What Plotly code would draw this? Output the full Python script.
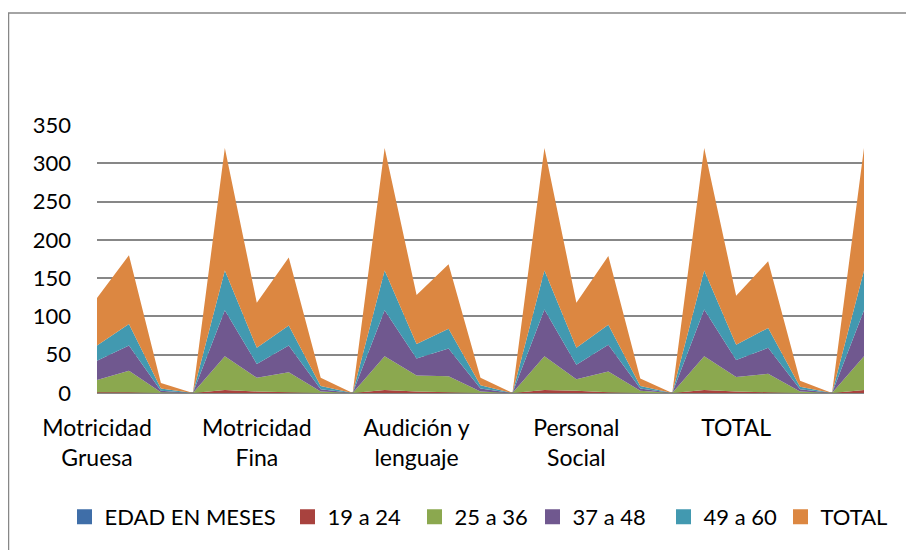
import plotly.graph_objects as go

# 25 category rows; only every 5th carries a visible label
x_idx = list(range(25))
tick_pos = [0, 5, 10, 15, 20]
tick_labels = ["Motricidad<br>Gruesa", "Motricidad<br>Fina", "Audición y<br>lenguaje",
               "Personal<br>Social", "TOTAL"]

series_names = ["EDAD EN MESES", "19 a 24", "25 a 36", "37 a 48", "49 a 60", "TOTAL"]

edad   = [0] * 25
a19_24 = [1, 1, 0, 0, 4,   2, 1, 0, 0, 4,   2, 1, 0, 0, 4,   3, 1, 0, 0, 4,   2, 1, 0, 0, 4]
a25_36 = [16, 28, 1, 0, 44, 18, 26, 2, 0, 44, 21, 21, 2, 0, 44, 15, 27, 3, 0, 44, 19, 24, 2, 0, 44]
a37_48 = [25, 33, 2, 0, 60, 18, 35, 3, 0, 60, 22, 36, 4, 0, 61, 19, 35, 3, 0, 61, 22, 34, 3, 0, 60]
a49_60 = [20, 28, 3, 0, 52, 21, 26, 4, 0, 52, 19, 26, 4, 0, 51, 22, 26, 3, 0, 51, 20, 26, 3, 0, 52]
total  = [62, 90, 7, 0, 160, 59, 89, 11, 0, 160, 64, 84, 10, 0, 160, 59, 90, 10, 0, 160, 64, 87, 8, 0, 160]

values = [edad, a19_24, a25_36, a37_48, a49_60, total]
colors = ["#3F6EA8", "#A8423E", "#8BA84F", "#70588F", "#4299B0", "#DC8741"]

FONT = "Lato, 'Open Sans', sans-serif"

# the page body adds an 8px offset; the figure is sized to fit inside it
OFF = 8
W, H = 914 - OFF, 550 - OFF
L, T = 97 - OFF, 125 - OFF
pw, ph = 767, 268
R, B = W - L - pw, H - T - ph

# left pixel of each legend swatch in the reference (screen coords)
legend_left_px = [77, 300, 427, 545, 676, 793]

fig = go.Figure()
for name, vals, col in zip(series_names, values, colors):
    fig.add_trace(go.Scatter(
        x=x_idx, y=vals, name=name, mode="none", stackgroup="one",
        fillcolor=col, line=dict(width=0), showlegend=False,
        legendgroup=name, hoverinfo="x+y+name"))

legend_layouts = {}
for i, (name, col) in enumerate(zip(series_names, colors)):
    key = "legend" if i == 0 else f"legend{i + 1}"
    fig.add_trace(go.Scatter(
        x=[None], y=[None], name=name, mode="markers", legendgroup=name,
        legend=key, marker=dict(symbol="square", size=15, color=col)))
    lx = (legend_left_px[i] - OFF - 12.5 - L) / pw
    legend_layouts[key] = dict(
        x=lx, xanchor="left", y=(393 - 517) / ph, yanchor="middle",
        orientation="h", font=dict(family=FONT, size=22, color="black"),
        itemwidth=30, bgcolor="rgba(0,0,0,0)", borderwidth=0)

plot_bottom = T + ph
fig.update_layout(
    width=W, height=H,
    margin=dict(l=L, r=R, t=T, b=B, autoexpand=False),
    paper_bgcolor="white", plot_bgcolor="white",
    font=dict(family=FONT, size=22, color="black"),
    showlegend=True,
    xaxis=dict(range=[0, 24], tickmode="array", tickvals=tick_pos, ticktext=tick_labels,
               showgrid=False, zeroline=False, showline=False, ticks="",
               ticklabelstandoff=19, tickfont=dict(size=23), fixedrange=True,
               automargin=False),
    yaxis=dict(range=[0, 350], tickmode="linear", tick0=0, dtick=50,
               showgrid=True, gridcolor="#878787", gridwidth=1.5,
               zeroline=True, zerolinecolor="#878787", zerolinewidth=1.5,
               showline=False, ticks="", ticklabelstandoff=25,
               tickfont=dict(size=22), fixedrange=True, automargin=False),
    shapes=[dict(type="rect", xref="paper", yref="paper",
                 x0=(0.5 - L) / pw, x1=(W + 20 - L) / pw,
                 y0=(plot_bottom - H - 20) / ph, y1=(plot_bottom - 5) / ph,
                 line=dict(color="#878787", width=1.5), fillcolor="rgba(0,0,0,0)",
                 layer="below")],
    **legend_layouts,
)

fig.write_html("out.html")
